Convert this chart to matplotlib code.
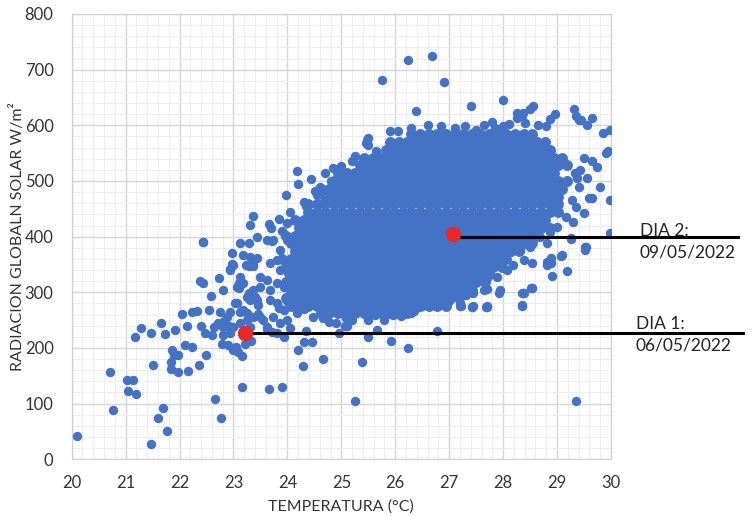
import matplotlib.pyplot as plt
from matplotlib.ticker import MultipleLocator

plt.rcParams['font.family'] = ['Lato', 'DejaVu Sans']

# cola izquierda (T < 23)
temp_izq = [20.09, 21.48, 21.77, 21.61, 21.69, 20.77, 20.72, 21.05, 21.20, 21.02, 21.13, 21.50,
            21.17, 21.28, 21.48, 21.66, 21.73, 21.92, 22.13, 22.04, 22.24, 22.32, 22.55, 22.58,
            22.38, 22.43, 22.44, 22.73, 22.80, 21.86, 21.89, 21.98, 21.85, 21.85, 21.98, 22.16,
            22.10, 22.24, 22.37, 22.50, 22.39, 22.47, 22.60, 22.66, 22.77]
rad_izq = [42, 27, 51, 75, 92, 88, 156, 123, 117, 143, 143, 169,
           220, 235, 227, 244, 225, 232, 240, 261, 265, 267, 269, 293,
           320, 316, 391, 325, 305, 196, 188, 187, 175, 162, 157, 158,
           206, 201, 169, 187, 240, 226, 224, 108, 75]

# zona media (23 - 24)
temp_media = [23.15, 23.15, 22.63, 22.81, 23.00, 23.31, 23.62, 23.86, 23.99, 22.88, 22.75, 23.18,
              23.06, 23.37, 23.55, 23.74, 23.93, 23.99, 23.80, 23.68, 23.43, 23.25, 23.06, 23.12,
              23.18, 23.37, 23.49, 23.62, 23.68, 23.80, 23.93, 24.02, 23.86, 23.74, 23.99, 23.80,
              23.86, 23.68, 23.49, 23.43, 23.37, 23.24, 23.31, 23.18, 23.00, 22.94, 22.97, 23.12,
              23.28, 23.43, 23.62, 23.71, 23.37, 23.31, 23.65, 23.90, 24.00, 23.85, 23.70, 22.94,
              22.98, 23.28, 23.36, 23.10, 23.10, 23.28, 23.30, 23.46, 23.40, 22.94, 23.12, 23.03,
              23.26, 23.45, 23.50, 23.63, 23.80, 23.93, 23.71, 22.72, 22.82, 22.91, 22.81, 22.93,
              22.78, 22.89, 23.00, 23.09, 23.04, 23.22, 23.32, 23.12, 23.25]
rad_media = [129, 185, 238, 238, 238, 238, 238, 244, 250, 256, 265, 268,
             280, 256, 250, 256, 268, 292, 280, 286, 286, 292, 310, 328,
             316, 304, 310, 322, 304, 316, 310, 334, 340, 394, 394, 358,
             376, 352, 328, 361, 349, 349, 364, 367, 349, 341, 371, 389,
             388, 399, 394, 393, 437, 421, 422, 410, 425, 432, 415, 340,
             350, 347, 347, 316, 308, 298, 286, 277, 292, 265, 265, 280,
             263, 261, 255, 234, 226, 220, 229, 244, 249, 239, 223, 227,
             208, 205, 196, 193, 202, 208, 213, 245, 250]

# borde inferior
temp_bajo = [24.17, 24.48, 24.66, 24.78, 24.90, 25.10, 25.20, 25.50, 25.63, 25.80, 25.96, 26.20,
             26.35, 26.62, 24.95, 25.50, 25.66, 25.06, 25.09, 24.20, 24.30, 24.45, 24.35, 24.29,
             24.66, 25.39, 25.26, 25.92, 26.23, 26.78, 23.65, 23.90, 24.05, 26.50, 26.80, 27.00,
             26.10, 26.30, 24.30, 24.00, 23.85, 29.36, 27.20, 27.42, 27.68, 27.22, 27.71, 27.43,
             28.35, 27.92, 27.70, 28.38, 28.52, 28.37, 28.53, 28.90, 29.18, 28.88, 28.88, 29.07,
             29.52, 27.64, 27.45, 27.32, 27.20, 27.44, 27.70, 27.95, 28.35, 28.35, 28.53]
rad_bajo = [262, 256, 253, 247, 244, 239, 251, 251, 260, 251, 260, 266,
            266, 286, 226, 219, 233, 240, 253, 196, 211, 211, 230, 168,
            181, 174, 105, 213, 200, 230, 127, 129, 235, 275, 282, 285,
            258, 262, 270, 285, 272, 105, 275, 273, 274, 276, 273, 273,
            276, 298, 306, 298, 307, 298, 307, 330, 339, 361, 353, 366,
            376, 304, 298, 296, 281, 275, 275, 304, 298, 277, 307]

# borde derecho
temp_der = [28.69, 28.87, 29.00, 28.81, 28.50, 28.31, 28.38, 28.53, 28.19, 28.07, 27.88, 27.70,
            28.81, 28.81, 29.09, 29.25, 29.52, 29.99, 29.50, 29.65, 29.99, 29.80, 29.74, 29.27,
            29.36, 29.17, 29.30, 28.98, 29.34, 29.43, 29.55, 29.65, 29.50, 29.37, 29.40, 29.94,
            29.90, 29.60, 29.99, 29.25, 29.54]
rad_der = [400, 409, 418, 388, 382, 376, 358, 352, 349, 340, 328, 325,
           355, 349, 367, 395, 382, 406, 442, 469, 466, 490, 526, 466,
           454, 436, 427, 454, 514, 520, 505, 535, 541, 505, 490, 554,
           550, 470, 592, 397, 382]

# borde superior
temp_sup = [24.17, 24.20, 24.43, 24.55, 24.52, 23.98, 24.05, 22.44, 24.85, 24.70, 25.00, 24.95,
            25.47, 25.50, 25.65, 25.55, 26.68, 26.23, 25.75, 26.91, 26.38, 27.41, 27.99, 28.56,
            28.50, 29.32, 28.25, 28.35, 28.87, 29.40, 29.65, 29.86, 28.00, 27.80, 25.90, 25.50,
            25.45, 28.26, 28.37, 28.97, 29.35, 29.45, 29.55, 27.10, 27.30, 27.50, 27.65, 27.85,
            28.10, 28.40, 28.65, 28.80, 26.05, 26.30, 26.60, 26.85, 24.35, 24.60, 24.30, 24.80,
            25.25, 25.20]
rad_sup = [518, 494, 503, 475, 482, 474, 445, 391, 523, 515, 527, 510,
           574, 565, 554, 540, 725, 717, 681, 677, 626, 635, 646, 634,
           630, 629, 613, 616, 611, 610, 614, 586, 598, 606, 589, 578,
           568, 622, 622, 621, 617, 610, 600, 595, 598, 592, 600, 596,
           603, 605, 600, 598, 590, 596, 600, 598, 455, 490, 462, 500,
           545, 535]

# nube densa: una fila de temperaturas por nivel de radiacion
core_rad = [262, 276, 290, 304, 318, 332, 346, 360, 374, 388, 402, 416,
            430, 444, 458, 472, 486, 500, 514, 528, 542, 556, 570, 584]
core_temp = [
    [24.62, 24.78, 24.94, 25.10, 25.26, 25.42, 25.58, 25.74, 25.90, 26.06, 26.22],
    [24.06, 24.22, 24.38, 24.54, 24.70, 24.86, 25.02, 25.18, 25.34, 25.50, 25.66, 25.82, 25.98, 26.14,
     26.30, 26.46, 26.62, 26.78, 26.94],
    [23.98, 24.14, 24.30, 24.46, 24.62, 24.78, 24.94, 25.10, 25.26, 25.42, 25.58, 25.74, 25.90, 26.06,
     26.22, 26.38, 26.54, 26.70, 26.86, 27.02, 27.18],
    [24.06, 24.22, 24.38, 24.54, 24.70, 24.86, 25.02, 25.18, 25.34, 25.50, 25.66, 25.82, 25.98,
     26.14, 26.30, 26.46, 26.62, 26.78, 26.94, 27.10, 27.26, 27.42],
    [23.98, 24.14, 24.30, 24.46, 24.62, 24.78, 24.94, 25.10, 25.26, 25.42, 25.58, 25.74, 25.90, 26.06,
     26.22, 26.38, 26.54, 26.70, 26.86, 27.02, 27.18, 27.34, 27.50, 27.66],
    [24.06, 24.22, 24.38, 24.54, 24.70, 24.86, 25.02, 25.18, 25.34, 25.50, 25.66, 25.82, 25.98,
     26.14, 26.30, 26.46, 26.62, 26.78, 26.94, 27.10, 27.26, 27.42, 27.58, 27.74],
    [23.98, 24.14, 24.30, 24.46, 24.62, 24.78, 24.94, 25.10, 25.26, 25.42, 25.58, 25.74, 25.90, 26.06,
     26.22, 26.38, 26.54, 26.70, 26.86, 27.02, 27.18, 27.34, 27.50, 27.66, 27.82, 27.98],
    [23.90, 24.06, 24.22, 24.38, 24.54, 24.70, 24.86, 25.02, 25.18, 25.34, 25.50, 25.66, 25.82, 25.98,
     26.14, 26.30, 26.46, 26.62, 26.78, 26.94, 27.10, 27.26, 27.42, 27.58, 27.74, 27.90, 28.06],
    [24.14, 24.30, 24.46, 24.62, 24.78, 24.94, 25.10, 25.26, 25.42, 25.58, 25.74, 25.90, 26.06,
     26.22, 26.38, 26.54, 26.70, 26.86, 27.02, 27.18, 27.34, 27.50, 27.66, 27.82, 27.98, 28.14, 28.30],
    [24.06, 24.22, 24.38, 24.54, 24.70, 24.86, 25.02, 25.18, 25.34, 25.50, 25.66, 25.82, 25.98,
     26.14, 26.30, 26.46, 26.62, 26.78, 26.94, 27.10, 27.26, 27.42, 27.58, 27.74, 27.90, 28.06, 28.22,
     28.38, 28.54],
    [23.98, 24.14, 24.30, 24.46, 24.62, 24.78, 24.94, 25.10, 25.26, 25.42, 25.58, 25.74, 25.90, 26.06,
     26.22, 26.38, 26.54, 26.70, 26.86, 27.02, 27.18, 27.34, 27.50, 27.66, 27.82, 27.98, 28.14, 28.30,
     28.46, 28.62],
    [24.22, 24.38, 24.54, 24.70, 24.86, 25.02, 25.18, 25.34, 25.50, 25.66, 25.82, 25.98, 26.14,
     26.30, 26.46, 26.62, 26.78, 26.94, 27.10, 27.26, 27.42, 27.58, 27.74, 27.90, 28.06, 28.22, 28.38,
     28.54, 28.70, 28.86],
    [24.14, 24.30, 24.46, 24.62, 24.78, 24.94, 25.10, 25.26, 25.42, 25.58, 25.74, 25.90, 26.06, 26.22,
     26.38, 26.54, 26.70, 26.86, 27.02, 27.18, 27.34, 27.50, 27.66, 27.82, 27.98, 28.14, 28.30, 28.46,
     28.62, 28.78],
    [24.38, 24.54, 24.70, 24.86, 25.02, 25.18, 25.34, 25.50, 25.66, 25.82, 25.98, 26.14, 26.30,
     26.46, 26.62, 26.78, 26.94, 27.10, 27.26, 27.42, 27.58, 27.74, 27.90, 28.06, 28.22, 28.38, 28.54,
     28.70, 28.86, 29.02],
    [24.38, 24.54, 24.70, 24.86, 25.02, 25.18, 25.34, 25.50, 25.66, 25.82, 25.98, 26.14, 26.30, 26.46,
     26.62, 26.78, 26.94, 27.10, 27.26, 27.42, 27.58, 27.74, 27.90, 28.06, 28.22, 28.38, 28.54, 28.70,
     28.86, 29.02],
    [24.70, 24.86, 25.02, 25.18, 25.34, 25.50, 25.66, 25.82, 25.98, 26.14, 26.30, 26.46, 26.62,
     26.78, 26.94, 27.10, 27.26, 27.42, 27.58, 27.74, 27.90, 28.06, 28.22, 28.38, 28.54, 28.70, 28.86,
     29.02],
    [24.62, 24.78, 24.94, 25.10, 25.26, 25.42, 25.58, 25.74, 25.90, 26.06, 26.22, 26.38, 26.54, 26.70,
     26.86, 27.02, 27.18, 27.34, 27.50, 27.66, 27.82, 27.98, 28.14, 28.30, 28.46, 28.62, 28.78, 28.94,
     29.10],
    [24.86, 25.02, 25.18, 25.34, 25.50, 25.66, 25.82, 25.98, 26.14, 26.30, 26.46, 26.62, 26.78, 26.94,
     27.10, 27.26, 27.42, 27.58, 27.74, 27.90, 28.06, 28.22, 28.38, 28.54, 28.70, 28.86, 29.02, 29.18],
    [24.94, 25.10, 25.26, 25.42, 25.58, 25.74, 25.90, 26.06, 26.22, 26.38, 26.54, 26.70, 26.86, 27.02,
     27.18, 27.34, 27.50, 27.66, 27.82, 27.98, 28.14, 28.30, 28.46, 28.62, 28.78, 28.94],
    [25.34, 25.50, 25.66, 25.82, 25.98, 26.14, 26.30, 26.46, 26.62, 26.78, 26.94, 27.10, 27.26,
     27.42, 27.58, 27.74, 27.90, 28.06, 28.22, 28.38, 28.54, 28.70, 28.86, 29.02, 29.18],
    [25.42, 25.58, 25.74, 25.90, 26.06, 26.22, 26.38, 26.54, 26.70, 26.86, 27.02, 27.18, 27.34, 27.50,
     27.66, 27.82, 27.98, 28.14, 28.30, 28.46, 28.62, 28.78, 28.94, 29.10],
    [25.82, 25.98, 26.14, 26.30, 26.46, 26.62, 26.78, 26.94, 27.10, 27.26, 27.42, 27.58, 27.74,
     27.90, 28.06, 28.22, 28.38, 28.54, 28.70, 28.86],
    [25.90, 26.06, 26.22, 26.38, 26.54, 26.70, 26.86, 27.02, 27.18, 27.34, 27.50, 27.66, 27.82, 27.98,
     28.14, 28.30, 28.46, 28.62, 28.78],
    [26.30, 26.46, 26.62, 26.78, 26.94, 27.10, 27.26, 27.42, 27.58, 27.74, 27.90, 28.06, 28.22, 28.38,
     28.54],
]

# dias destacados
dia_temp = [23.22, 27.07]
dia_rad = [226, 405]
dia_txt = ['DIA 1:\n06/05/2022', 'DIA 2:\n09/05/2022']

x = temp_izq + temp_media + temp_bajo + temp_der + temp_sup
y = rad_izq + rad_media + rad_bajo + rad_der + rad_sup
xc, yc = [], []
for r, fila in zip(core_rad, core_temp):
    xc += fila
    yc += [r] * len(fila)

fig = plt.figure(figsize=(7.52, 5.16), dpi=100)
ax = fig.add_axes([0.0953, 0.1099, 0.7172, 0.8630])

ax.scatter(xc, yc, s=62, color='#4472C4', linewidths=0, zorder=3)
ax.scatter(x, y, s=46, color='#4472C4', linewidths=0, zorder=3)

# lineas hacia las etiquetas
ax.plot([dia_temp[0], 32.44], [dia_rad[0], dia_rad[0]], color='black', lw=2.2, clip_on=False, zorder=4)
ax.plot([dia_temp[1], 32.36], [dia_rad[1] - 5, dia_rad[1] - 5], color='black', lw=2.2, clip_on=False, zorder=4)
ax.scatter(dia_temp, dia_rad, s=125, color='#E8282B', linewidths=0, zorder=5)

fig.text(636/752, 1 - 335/516, dia_txt[0], fontsize=12.5, va='center', ha='left', linespacing=1.4, color='#222222')
fig.text(640/752, 1 - 242/516, dia_txt[1], fontsize=12.5, va='center', ha='left', linespacing=1.4, color='#222222')

ax.set_xlim(20, 30)
ax.set_ylim(0, 800)
ax.xaxis.set_major_locator(MultipleLocator(1))
ax.xaxis.set_minor_locator(MultipleLocator(0.2))
ax.yaxis.set_major_locator(MultipleLocator(100))
ax.yaxis.set_minor_locator(MultipleLocator(20))
ax.grid(which='major', color='#D6D6D6', lw=1.0)
ax.grid(which='minor', color='#EDEDED', lw=0.8)
ax.set_axisbelow(True)
for sp in ax.spines.values():
    sp.set_color('#D0D0D0')
ax.tick_params(which='both', length=0, labelsize=12, colors='#333333')
ax.tick_params(axis='x', pad=11)
ax.tick_params(axis='y', pad=13)

ax.set_xlabel('TEMPERATURA (°C)', fontsize=11.5, color='#333333', labelpad=6)
ax.set_ylabel('RADIACION GLOBALN SOLAR W/m²', fontsize=11.5, color='#333333', labelpad=0)

plt.savefig('out.png', dpi=100)
